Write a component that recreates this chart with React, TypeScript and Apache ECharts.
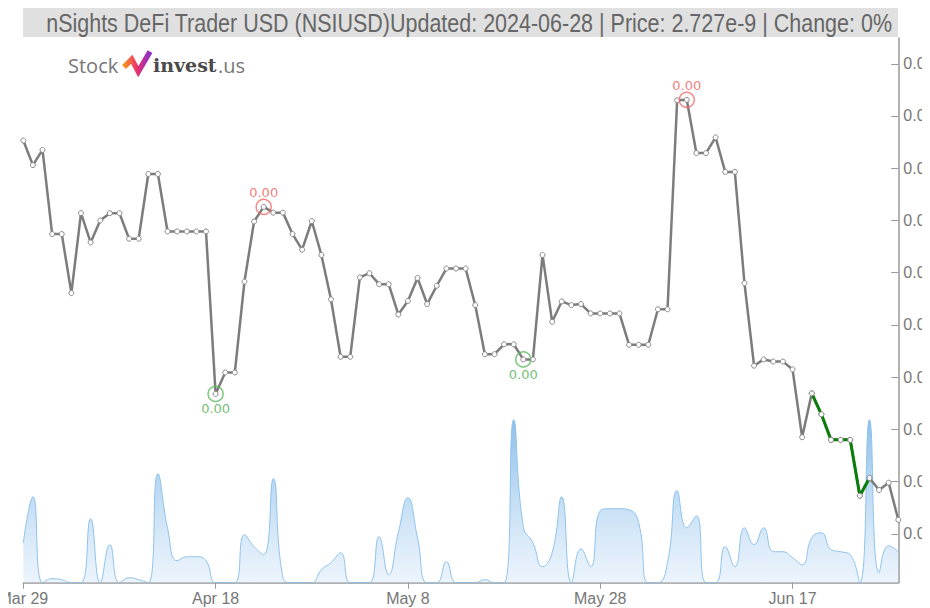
import React, { useEffect, useRef } from "react";
import * as echarts from "echarts";

// ---------- data ----------
const startDate = "2024-03-29";
const dayCount = 92;
const monthNames = ["Jan", "Feb", "Mar", "Apr", "May", "Jun", "Jul", "Aug", "Sep", "Oct", "Nov", "Dec"];
const dates: string[] = (() => {
  const out: string[] = [];
  const d0 = new Date(startDate + "T00:00:00Z");
  for (let i = 0; i < dayCount; i++) {
    const d = new Date(d0.getTime() + i * 86400000);
    out.push(d.toISOString().slice(0, 10));
  }
  return out;
})();

// price in units of 1e-9 USD
const priceNano: number[] = [
  3.453, 3.406, 3.435, 3.274, 3.274, 3.161, 3.314, 3.258, 3.300, 3.314,
  3.314, 3.265, 3.265, 3.389, 3.389, 3.279, 3.279, 3.279, 3.279, 3.279,
  2.968, 3.009, 3.009, 3.183, 3.298, 3.326, 3.315, 3.315, 3.274, 3.244,
  3.299, 3.234, 3.149, 3.039, 3.039, 3.191, 3.199, 3.178, 3.178, 3.120,
  3.146, 3.190, 3.140, 3.175, 3.208, 3.208, 3.208, 3.138, 3.044, 3.044,
  3.063, 3.063, 3.034, 3.034, 3.234, 3.106, 3.145, 3.138, 3.140, 3.122,
  3.122, 3.122, 3.122, 3.062, 3.062, 3.062, 3.130, 3.130, 3.530, 3.531,
  3.429, 3.429, 3.459, 3.393, 3.393, 3.180, 3.022, 3.034, 3.030, 3.030,
  3.015, 2.885, 2.969, 2.929, 2.880, 2.880, 2.880, 2.773, 2.807, 2.784,
  2.798, 2.727,
];

const volume: number[] = [
  40, 86, 0, 4, 3, 0, 0, 64, 0, 38,
  0, 5, 3, 0, 109, 55, 22, 26, 26, 22,
  0, 0, 0, 48, 36, 28, 104, 5, 0, 0,
  0, 13, 20, 30, 0, 0, 0, 46, 8, 50,
  85, 45, 0, 0, 21, 0, 0, 0, 3, 0,
  0, 163, 56, 40, 16, 30, 86, 0, 34, 16,
  72, 74, 74, 73, 60, 0, 0, 20, 92, 55,
  67, 0, 0, 36, 16, 55, 38, 55, 31, 31,
  25, 18, 45, 50, 33, 31, 28, 0, 163, 10,
  37, 31,
];

const highMarks = [25, 69];
const lowMarks = [20, 52];
const greenStart = 82;
const greenEnd = 88;

const priceAxisMin = 2.7;
const priceAxisMax = 3.6;
const priceAxisStep = 0.1;
const volumeAxisMax = 545;

const titleText =
  "nSights DeFi Trader USD (NSIUSD)Updated: 2024-06-28 | Price: 2.727e-9 | Change: 0%";

const SANS = "'Liberation Sans', Arial, sans-serif";

const fmtPrice = (v: number) => (v * 1e-9).toFixed(2);
const fmtDate = (s: string) => {
  const m = parseInt(s.slice(5, 7), 10);
  const d = parseInt(s.slice(8, 10), 10);
  return monthNames[m - 1] + " " + d;
};

export default function App() {
  const ref = useRef<HTMLDivElement>(null);

  useEffect(() => {
    document.body.style.overflow = "hidden";
    if (!ref.current) return;
    const chart = echarts.init(ref.current, undefined, { renderer: "svg" });

    const greenData = priceNano.map((v, i) => (i >= greenStart && i <= greenEnd ? v : null));
    const markerStyle = { color: "#ffffff", borderColor: "#8a8a8a", borderWidth: 1 };

    chart.setOption({
      animation: false,
      grid: [
        { left: 15.3, right: 31.7, top: 55.75, bottom: 74.1, containLabel: false, outerBoundsMode: "none" },
        { left: 15.3, right: 31.7, top: 30, bottom: 25.3, containLabel: false, outerBoundsMode: "none" },
      ],
      xAxis: [
        {
          type: "category",
          gridIndex: 0,
          data: dates,
          boundaryGap: false,
          show: false,
        },
        {
          type: "category",
          gridIndex: 1,
          data: dates,
          boundaryGap: false,
          axisLine: { lineStyle: { color: "#999", width: 1.5 } },
          axisTick: { interval: 19, length: 6, lineStyle: { color: "#999" } },
          axisLabel: {
            interval: 19,
            formatter: (v: string) => fmtDate(v),
            color: "#777",
            fontSize: 16,
            fontFamily: SANS,
            margin: 8,
          },
          splitLine: { show: false },
        },
      ],
      yAxis: [
        {
          type: "value",
          gridIndex: 0,
          position: "right",
          min: priceAxisMin,
          max: priceAxisMax,
          interval: priceAxisStep,
          axisLine: { show: false },
          axisTick: { show: true, inside: true, length: 7, lineStyle: { color: "#999" } },
          axisLabel: {
            formatter: (v: number) => fmtPrice(v),
            color: "#777",
            fontSize: 16,
            fontFamily: SANS,
            margin: 5,
          },
          splitLine: { show: false },
        },
        {
          type: "value",
          gridIndex: 1,
          position: "right",
          min: 0,
          max: volumeAxisMax,
          axisLine: { show: true, lineStyle: { color: "#999", width: 1.5 } },
          axisTick: { show: false },
          axisLabel: { show: false },
          splitLine: { show: false },
        },
      ],
      series: [
        {
          type: "line",
          name: "volume",
          xAxisIndex: 1,
          yAxisIndex: 1,
          data: volume,
          smooth: 0.5,
          symbol: "none",
          z: 1,
          lineStyle: { color: "#8fc3ec", width: 1 },
          areaStyle: {
            color: new echarts.graphic.LinearGradient(0, 0, 0, 1, [
              { offset: 0, color: "rgba(84,160,222,0.95)" },
              { offset: 1, color: "rgba(210,229,249,0.6)" },
            ]),
          },
        },
        {
          type: "line",
          name: "price",
          xAxisIndex: 0,
          yAxisIndex: 0,
          data: priceNano,
          z: 3,
          symbol: "circle",
          symbolSize: 5,
          showAllSymbol: true,
          lineStyle: { color: "#7c7c7c", width: 2.5 },
          itemStyle: markerStyle,
        },
        {
          type: "line",
          name: "trend",
          xAxisIndex: 0,
          yAxisIndex: 0,
          data: greenData,
          z: 4,
          symbol: "circle",
          symbolSize: 5,
          showAllSymbol: true,
          lineStyle: { color: "#0a7d0a", width: 3 },
          itemStyle: markerStyle,
        },
        {
          type: "scatter",
          name: "highs",
          xAxisIndex: 0,
          yAxisIndex: 0,
          z: 5,
          symbol: "circle",
          symbolSize: 15,
          data: highMarks.map((i) => [i, priceNano[i]]),
          itemStyle: { color: "rgba(0,0,0,0)", borderColor: "#ef6a6a", borderWidth: 1.5 },
          label: {
            show: true,
            position: "top",
            distance: 0,
            formatter: (p: any) => fmtPrice(p.value[1]),
            color: "#ef5b5b",
            fontSize: 13,
            fontFamily: "'DejaVu Sans', sans-serif",
          },
        },
        {
          type: "scatter",
          name: "lows",
          xAxisIndex: 0,
          yAxisIndex: 0,
          z: 5,
          symbol: "circle",
          symbolSize: 15,
          data: lowMarks.map((i) => [i, priceNano[i]]),
          itemStyle: { color: "rgba(0,0,0,0)", borderColor: "#5cb85c", borderWidth: 1.5 },
          label: {
            show: true,
            position: "bottom",
            distance: 0,
            formatter: (p: any) => fmtPrice(p.value[1]),
            color: "#4cae4c",
            fontSize: 13,
            fontFamily: "'DejaVu Sans', sans-serif",
          },
        },
      ],
      graphic: [
        {
          type: "rect",
          left: 15,
          top: 0,
          shape: { x: 0, y: 0, width: 875, height: 29 },
          style: { fill: "#e0e0e0" },
          z: 10,
        },
        {
          type: "text",
          x: 884,
          y: 15,
          scaleX: 0.86,
          z: 11,
          style: {
            text: titleText,
            fill: "#666",
            fontSize: 25,
            fontFamily: SANS,
            align: "right",
            verticalAlign: "middle",
          },
        },
        {
          type: "text",
          x: 60,
          y: 57,
          z: 11,
          style: {
            text: "Stock",
            fill: "#777",
            fontSize: 20,
            fontFamily: "'Open Sans', sans-serif",
            verticalAlign: "middle",
          },
        },
        {
          type: "polyline",
          z: 11,
          shape: {
            points: [
              [116, 59],
              [123.7, 51.3],
              [130.3, 63.7],
              [142, 43.7],
            ],
          },
          style: {
            fill: null,
            lineWidth: 5.5,
            lineJoin: "miter",
            stroke: new echarts.graphic.LinearGradient(0, 0, 1, 0, [
              { offset: 0, color: "#f7941d" },
              { offset: 0.5, color: "#e8336d" },
              { offset: 1, color: "#8b2fc9" },
            ]),
          },
        },
        {
          type: "text",
          x: 145,
          y: 57,
          z: 11,
          style: {
            text: "invest",
            fill: "#4a4a4a",
            fontSize: 19,
            fontWeight: "bold",
            fontFamily: "'DejaVu Serif', serif",
            verticalAlign: "middle",
          },
        },
        {
          type: "text",
          x: 210,
          y: 57,
          z: 11,
          style: {
            text: ".us",
            fill: "#777",
            fontSize: 20,
            fontFamily: "'Open Sans', sans-serif",
            verticalAlign: "middle",
          },
        },
      ],
    });

    return () => {
      chart.dispose();
    };
  }, []);

  return <div ref={ref} style={{ width: 922, height: 600 }} />;
}
